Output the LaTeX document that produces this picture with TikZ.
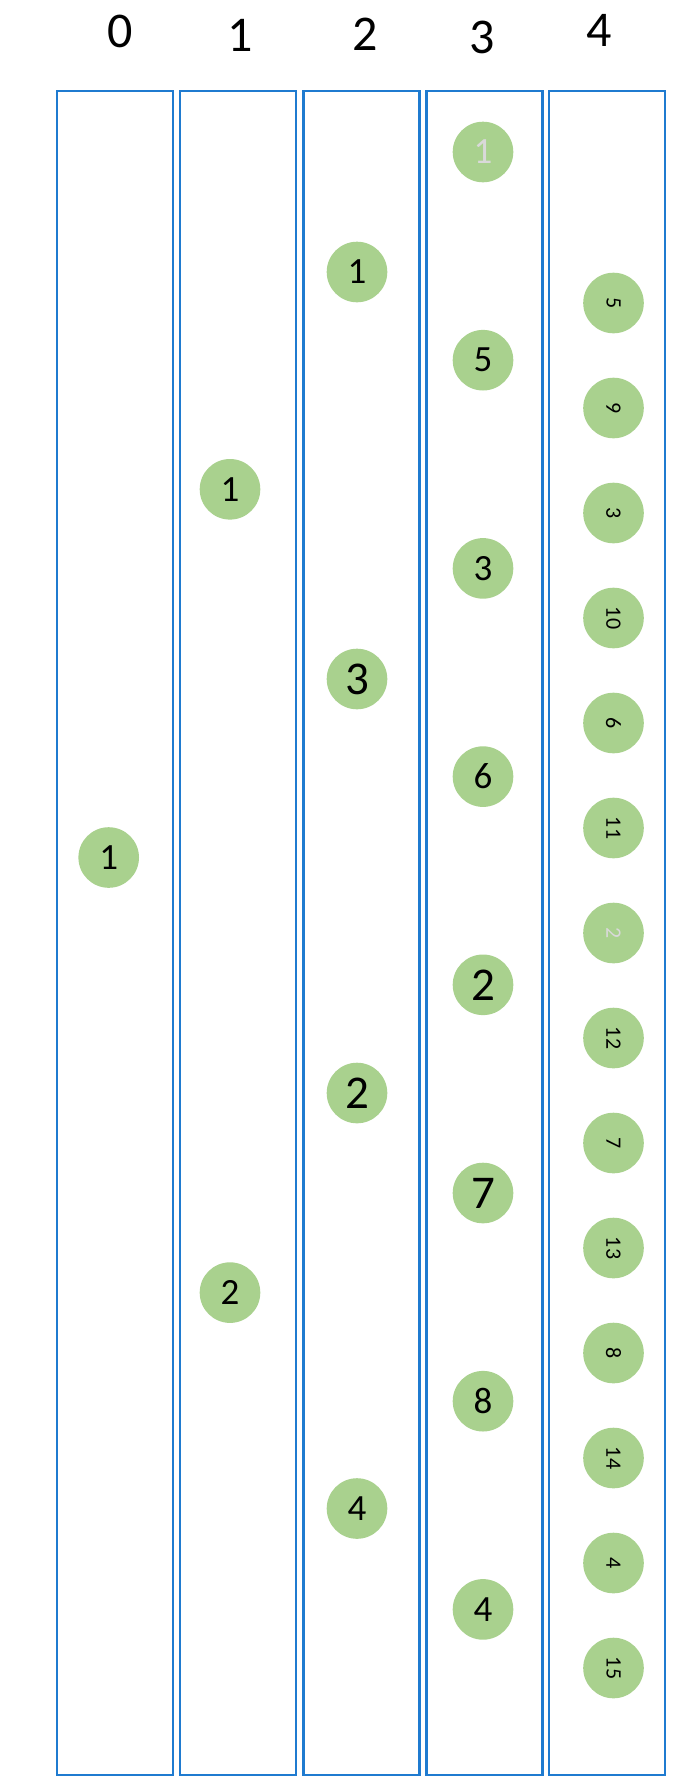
\documentclass[tikz,border=0pt]{standalone}
\usepackage{fontspec}
\setmainfont{Carlito}
\usepackage{tikz}
\definecolor{boxblue}{HTML}{1F7BD0}
\definecolor{leafgreen}{HTML}{A9D18E}
\definecolor{fadegray}{HTML}{D9D9D9}

\begin{document}
\begin{tikzpicture}[x=1pt,y=-1pt,
        col/.style={rectangle,draw=boxblue,line width=2.2pt,
                    minimum width=116pt,minimum height=1684pt,inner sep=0pt},
        hd/.style={inner sep=0pt,font=\fontsize{50}{50}\selectfont},
        dot/.style={circle,fill=leafgreen,minimum size=60.6pt,inner sep=0pt,
                    font=\fontsize{37}{37}\selectfont},
        big/.style={font=\fontsize{47}{47}\selectfont},
        leaf/.style={font=\fontsize{22}{22}\selectfont,rotate=-90}]
      \useasboundingbox (0,0) rectangle (700,1791);
      %% ── Level headers ────────────────────────────────────
      \node[hd](h0) at(120.5,31){0};
      \node[hd](h1) at(240,35){1};
      \node[hd](h2) at(365,34){2};
      \node[hd](h3) at(482,37){3};
      \node[hd](h4) at(599,30){4};
      %% ── Level columns ────────────────────────────────────
      \node[col](b0) at(115,932.6){};
      \node[col](b1) at(238.2,932.6){};
      \node[col](b2) at(361.4,932.6){};
      \node[col](b3) at(484.4,932.6){};
      \node[col](b4) at(607.2,932.6){};
      %% ── Level 0 ──────────────────────────────────────────
      \node[dot](c0a) at(108.7,857.5){1};
      %% ── Level 1 ──────────────────────────────────────────
      \node[dot](c1a) at(230,489.3){1};
      \node[dot](c1b) at(230,1292.6){2};
      %% ── Level 2 ──────────────────────────────────────────
      \node[dot]    (c2a) at(357,272){1};
      \node[dot,big](c2b) at(357,679){3};
      \node[dot,big](c2c) at(357,1093){2};
      \node[dot]    (c2d) at(357,1508.5){4};
      %% ── Level 3 ──────────────────────────────────────────
      \node[dot,text=fadegray](c3a) at(483,152){1};
      \node[dot]    (c3b) at(483,360.2){5};
      \node[dot]    (c3c) at(483,568.4){3};
      \node[dot]    (c3d) at(483,776.6){6};
      \node[dot,big](c3e) at(483,984.8){2};
      \node[dot,big](c3f) at(483,1193){7};
      \node[dot]    (c3g) at(483,1401.2){8};
      \node[dot]    (c3h) at(483,1609.4){4};
      %% ── Level 4 (rotated labels) ─────────────────────────
      \node[dot,leaf](c4a) at(613.5,303){5};
      \node[dot,leaf](c4b) at(613.5,408){9};
      \node[dot,leaf](c4c) at(613.5,513){3};
      \node[dot,leaf](c4d) at(613.5,618){10};
      \node[dot,leaf](c4e) at(613.5,723){6};
      \node[dot,leaf](c4f) at(613.5,828){11};
      \node[dot,leaf,text=fadegray](c4g) at(613.5,933){2};
      \node[dot,leaf](c4h) at(613.5,1038){12};
      \node[dot,leaf](c4i) at(613.5,1143){7};
      \node[dot,leaf](c4j) at(613.5,1248){13};
      \node[dot,leaf](c4k) at(613.5,1353){8};
      \node[dot,leaf](c4l) at(613.5,1458){14};
      \node[dot,leaf](c4m) at(613.5,1563){4};
      \node[dot,leaf](c4n) at(613.5,1668){15};
    \end{tikzpicture}
\end{document}
